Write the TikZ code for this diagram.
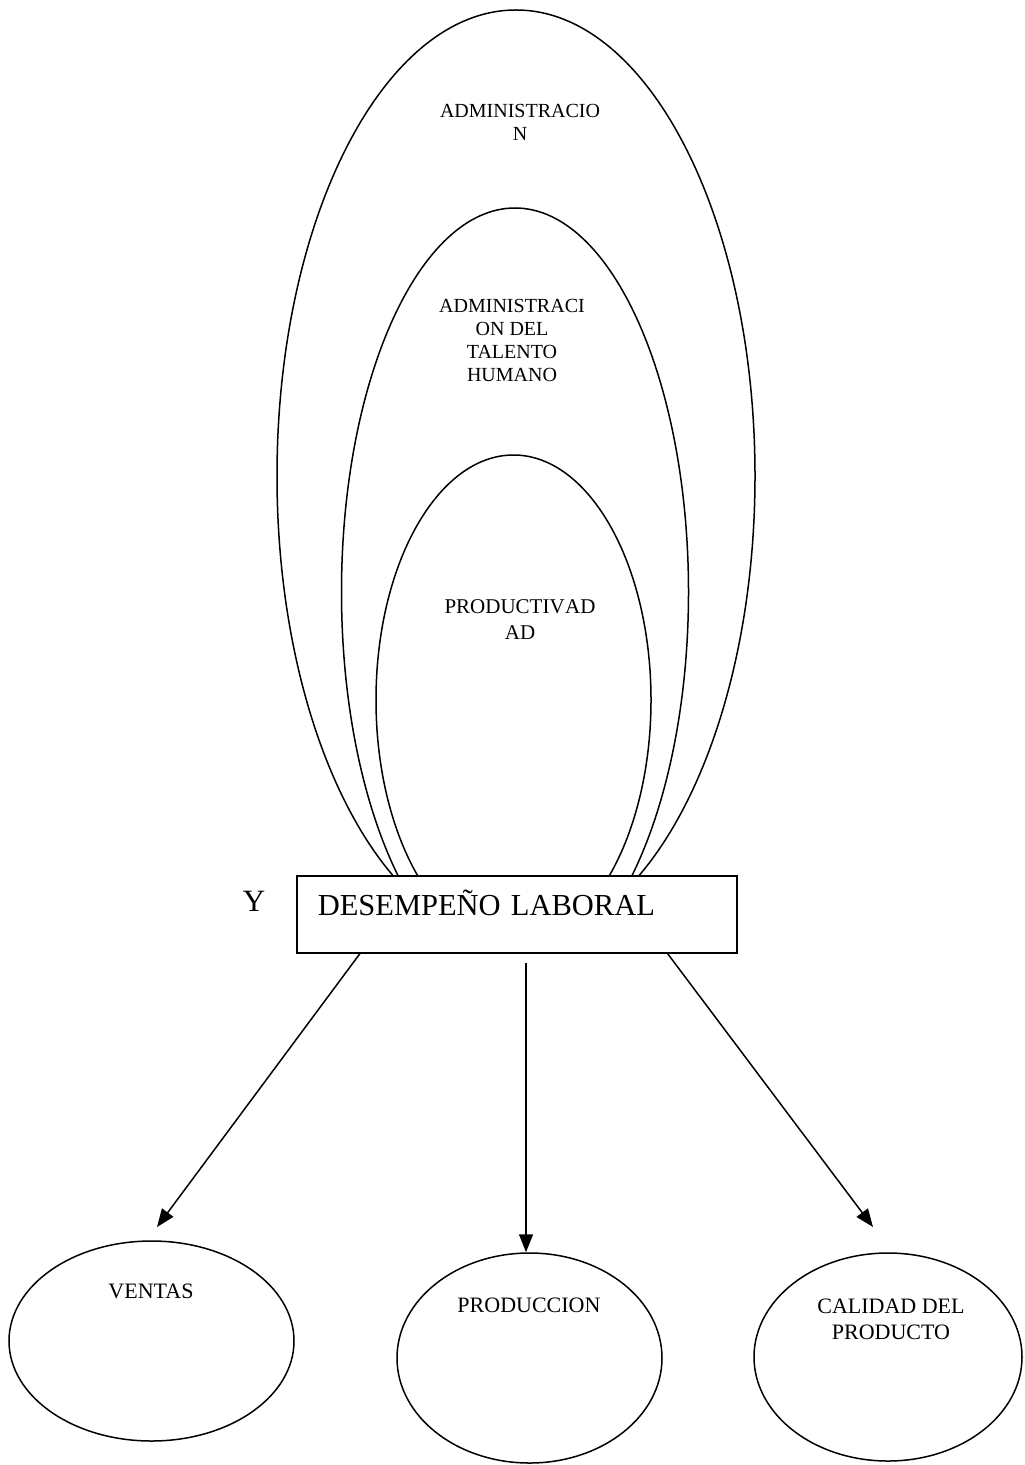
\documentclass[tikz,border=0pt]{standalone}
\usepackage{fontspec}
\setmainfont{Liberation Serif}
\usetikzlibrary{shapes.geometric,arrows.meta,calc}
\begin{document}
\begin{tikzpicture}[x=1bp,y=-1bp,
  outline/.style={draw=black, line width=1.5bp},
  ringtext/.style={inner sep=0pt, align=center, font=\fontsize{20bp}{23bp}\selectfont},
  leaftext/.style={inner sep=0pt, align=center, font=\fontsize{22bp}{26bp}\selectfont},
  leaf/.style={outline, ellipse, inner sep=0pt},
  connector/.style={line width=1.5bp, -{Triangle[length=18bp,width=14bp]}}
]
\useasboundingbox[fill=white] (0,0) rectangle (1024,1465);

% nested ovals, cut off where they meet the box
\begin{scope}
  \clip (0,0) rectangle (1024,875);
  \draw[outline] (516,476) ellipse [x radius=239bp, y radius=466bp];
  \draw[outline] (515,592) ellipse [x radius=173.5bp, y radius=384bp];
  \draw[outline] (513.5,700) ellipse [x radius=137.5bp, y radius=245bp];
\end{scope}

\node[ringtext] (admin) at (520,122) {ADMINISTRACIO\\N};
\node[ringtext] (talento) at (512,340) {ADMINISTRACI\\ON DEL\\TALENTO\\HUMANO};
\node[ringtext, font=\fontsize{21bp}{26bp}\selectfont] (produc) at (520,619.5) {PRODUCTIV\kern0.5bp AD\\AD};

% central box
\node[outline, rectangle, anchor=north west, inner xsep=21bp, inner ysep=0pt,
      text width=398bp, text height=40bp, text depth=37bp,
      font=\fontsize{30.5bp}{36bp}\selectfont] (desempeno) at (296,875) {DESEMPEÑO LABORAL};
\node[inner sep=0pt, anchor=base, font=\fontsize{31bp}{36bp}\selectfont] (yletra) at (254,911) {Y};

% outcome ovals
\node[leaf, minimum width=285bp, minimum height=200bp] (ventas) at (151.5,1341) {};
\node[leaf, minimum width=265bp, minimum height=210bp] (produccion) at (529.5,1358) {};
\node[leaf, minimum width=268bp, minimum height=208bp] (calidad) at (888,1357) {};

\node[leaftext, anchor=base] (ventasT) at (151,1298) {VENTAS};
\node[leaftext, anchor=base] (produccionT) at (529,1312) {PRODUCCION};
\node[leaftext] (calidadT) at (891,1319) {CALIDAD DEL\\PRODUCTO};

% arrows
\coordinate (tipL) at (157,1227);
\coordinate (tipR) at (873,1227);
\coordinate (startM) at (526,963);
\draw[connector] ($(desempeno.south west)+(64,0)$) -- (tipL);
\draw[connector] (startM) -- (startM |- produccion.north);
\draw[connector] ($(desempeno.south east)+(-70,0)$) -- (tipR);
\end{tikzpicture}
\end{document}
